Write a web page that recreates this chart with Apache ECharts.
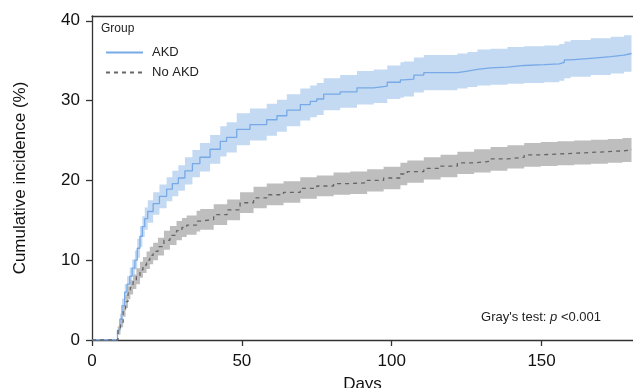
<!DOCTYPE html>
<html>
<head>
<meta charset="utf-8">
<script src="https://cdn.jsdelivr.net/npm/echarts@6/dist/echarts.min.js"></script>
<style>
  html, body { margin: 0; padding: 0; background: #fff; }
  #chart { width: 633px; height: 388px; }
</style>
</head>
<body>
<div id="chart"></div>
<script>
// AKD group: day, cumulative incidence (%), 95% CI
const akdDays = [0, 8.5, 9.3, 10, 10.9, 11.7, 12.6, 13.4, 14.3, 15.1, 16, 16.8, 17.6, 18.6, 20.4, 22.5, 24.9, 26.8, 28.8, 31, 33.5, 36, 39.4, 42.8, 44.9, 48.3, 52.7, 58.3, 61.7, 65, 69.5, 72.8, 75, 77.3, 82.8, 88.4, 94, 98.5, 102.9, 104.1, 107.4, 110.7, 121.9, 125.3, 128.6, 133, 138.6, 144.2, 150.9, 155.9, 157.6, 159.7, 166.4, 173.1, 177.5, 180]
const akdCif = [0, 1.2, 2.6, 4.3, 6.0, 7.0, 8.0, 9.0, 10.0, 11.5, 13.0, 14.2, 15.2, 16.1, 17.1, 18.0, 18.9, 19.6, 20.3, 21.2, 22.1, 22.9, 23.9, 24.9, 25.4, 26.4, 27.0, 27.6, 28.1, 28.8, 29.5, 29.9, 30.2, 30.8, 31.1, 31.6, 31.8, 32.3, 32.6, 32.7, 33.2, 33.5, 33.7, 33.9, 34.1, 34.2, 34.4, 34.5, 34.6, 34.8, 35.1, 35.3, 35.5, 35.7, 35.9, 35.9]
const akdLow = [0, 0.7, 1.9, 3.4, 5.0, 6.0, 6.9, 7.9, 8.8, 10.3, 11.7, 12.9, 13.8, 14.7, 15.7, 16.5, 17.4, 18.0, 18.7, 19.5, 20.4, 21.1, 22.1, 23.0, 23.5, 24.4, 25.0, 25.6, 26.1, 26.8, 27.5, 27.9, 28.2, 28.8, 29.1, 29.5, 29.7, 30.2, 30.4, 30.5, 31.0, 31.3, 31.5, 31.7, 31.9, 32.0, 32.1, 32.2, 32.3, 32.5, 32.8, 33.0, 33.2, 33.4, 33.6, 33.6]
const akdHigh = [0, 1.7, 3.3, 5.2, 7.0, 8.0, 9.1, 10.1, 11.2, 12.7, 14.3, 15.5, 16.6, 17.5, 18.5, 19.5, 20.4, 21.2, 21.9, 22.9, 23.8, 24.7, 25.7, 26.8, 27.3, 28.4, 29.0, 29.6, 30.1, 30.8, 31.5, 31.9, 32.2, 32.8, 33.2, 33.7, 33.9, 34.4, 34.8, 34.9, 35.4, 35.7, 35.9, 36.1, 36.4, 36.5, 36.7, 36.8, 36.9, 37.1, 37.4, 37.6, 37.8, 38.0, 38.2, 38.2]

// No AKD group
const noAkdDays = [0, 8.7, 9.5, 10.4, 11.2, 12, 12.8, 13.7, 14.8, 16, 17, 18.2, 19.3, 20.4, 22, 24, 26, 28.2, 30, 31.6, 34.9, 36.1, 40.6, 45.1, 49.4, 53.9, 58.3, 63.9, 69.5, 75, 80.6, 86.2, 91.8, 97.3, 102.9, 105.2, 110.7, 116.3, 121.9, 127.5, 133, 138.6, 144.2, 149.7, 155.3, 160.9, 166.5, 172.1, 177, 180]
const noAkdCif = [0, 1.2, 2.2, 3.6, 4.8, 5.9, 6.6, 7.3, 8.0, 8.8, 9.4, 10.0, 10.6, 11.1, 11.7, 12.5, 13.1, 13.7, 14.1, 14.4, 14.9, 15.1, 15.7, 16.3, 17.2, 17.8, 18.2, 18.5, 19.0, 19.3, 19.6, 19.7, 20.0, 20.3, 20.8, 21.1, 21.5, 21.8, 22.2, 22.4, 22.7, 22.9, 23.2, 23.3, 23.4, 23.5, 23.6, 23.7, 23.8, 23.9]
const noAkdLow = [0, 0.7, 1.6, 2.9, 4.0, 5.1, 5.7, 6.4, 7.0, 7.8, 8.4, 8.9, 9.5, 10.0, 10.6, 11.3, 11.9, 12.5, 12.9, 13.2, 13.6, 13.8, 14.4, 15.0, 15.9, 16.5, 16.9, 17.2, 17.7, 18.0, 18.2, 18.3, 18.6, 18.9, 19.4, 19.7, 20.1, 20.4, 20.8, 21.0, 21.2, 21.5, 21.7, 21.8, 21.9, 22.0, 22.1, 22.2, 22.3, 22.4]
const noAkdHigh = [0, 1.7, 2.8, 4.3, 5.6, 6.7, 7.5, 8.2, 9.0, 9.8, 10.4, 11.1, 11.7, 12.2, 12.8, 13.7, 14.3, 14.9, 15.3, 15.6, 16.2, 16.4, 17.0, 17.6, 18.5, 19.2, 19.6, 19.9, 20.4, 20.6, 21.0, 21.1, 21.4, 21.7, 22.2, 22.5, 22.9, 23.2, 23.6, 23.9, 24.2, 24.4, 24.7, 24.8, 24.9, 25.0, 25.1, 25.2, 25.3, 25.4]

const xTicks = [0, 50, 100, 150]
const yTicks = [0, 10, 20, 30, 40]

const axisColor = '#333333'
const fontFam = '"Liberation Sans", Arial, Helvetica, sans-serif'

function pairs(xs, ys) {
  return xs.map((x, i) => [x, ys[i]])
}

// CI band: one stepped polygon built from the rows through api.coord
function band(name, xs, lo, hi, color) {
  const rows = xs.map((x, i) => [x, lo[i], hi[i]])
  return {
    name: name,
    type: 'custom',
    silent: true,
    z: 1,
    data: rows,
    encode: { x: 0, y: [1, 2] },
    renderItem: function (params, api) {
      if (params.dataIndex !== 0) return null
      const top = []
      const bot = []
      for (let i = 0; i < rows.length; i++) {
        const x0 = rows[i][0]
        const x1 = i < rows.length - 1 ? rows[i + 1][0] : rows[i][0]
        top.push(api.coord([x0, rows[i][2]]), api.coord([x1, rows[i][2]]))
        bot.push(api.coord([x0, rows[i][1]]), api.coord([x1, rows[i][1]]))
      }
      return {
        type: 'polygon',
        shape: { points: top.concat(bot.reverse()) },
        style: { fill: color }
      }
    }
  }
}

const chart = echarts.init(document.getElementById('chart'), null, { renderer: 'canvas' })

const option = {
  animation: false,
  backgroundColor: '#ffffff',
  grid: { left: 92, right: 0, top: 16, bottom: 48, containLabel: false, outerBoundsMode: 'none' },
  legend: {
    data: ['AKD', 'No AKD'],
    orient: 'vertical',
    left: 100,
    top: 41,
    itemWidth: 37,
    itemHeight: 14,
    itemGap: 7,
    itemStyle: { opacity: 0 },
    textStyle: { fontFamily: fontFam, fontSize: 13, color: '#222', padding: [0, 0, 0, 4] }
  },
  graphic: [{
    type: 'text',
    left: 101,
    top: 23,
    style: { text: 'Group', fontFamily: fontFam, fontSize: 12, fill: '#222' }
  }, {
    type: 'text',
    right: 32,
    top: 311,
    style: {
      text: "{n|Gray's test: }{i|p}{n| <0.001}",
      rich: {
        n: { fontFamily: fontFam, fontSize: 13, fill: '#222' },
        i: { fontFamily: fontFam, fontSize: 13, fontStyle: 'italic', fill: '#222' }
      }
    }
  }],
  xAxis: [{
    type: 'value',
    min: 0,
    max: 180.5,
    interval: 50,
    offset: 2,
    name: 'Days',
    nameLocation: 'middle',
    nameGap: 34,
    nameTextStyle: { fontFamily: fontFam, fontSize: 17, color: '#111' },
    axisLine: { show: true, lineStyle: { color: axisColor, width: 1.3 } },
    axisTick: { show: true, length: 6, customValues: xTicks, lineStyle: { color: axisColor, width: 1.3 } },
    axisLabel: { customValues: xTicks, fontFamily: fontFam, fontSize: 17, color: '#111', margin: 11 },
    splitLine: { show: false }
  }, {
    type: 'value',
    position: 'top',
    min: 0,
    max: 180.5,
    axisLine: { show: true, lineStyle: { color: axisColor, width: 1.3 } },
    axisTick: { show: false },
    axisLabel: { show: false },
    splitLine: { show: false }
  }],
  yAxis: {
    type: 'value',
    min: 0,
    max: 40.6,
    interval: 10,
    offset: 1,
    name: 'Cumulative incidence (%)',
    nameLocation: 'middle',
    nameGap: 62,
    nameTextStyle: { fontFamily: fontFam, fontSize: 17, color: '#111' },
    axisLine: { show: true, lineStyle: { color: axisColor, width: 1.3 } },
    axisTick: { show: true, length: 6, customValues: yTicks, lineStyle: { color: axisColor, width: 1.3 } },
    axisLabel: { customValues: yTicks, fontFamily: fontFam, fontSize: 17, color: '#111', margin: 11 },
    splitLine: { show: false }
  },
  series: [
    band('akd_ci', akdDays, akdLow, akdHigh, '#c4daf3'),
    band('noakd_ci', noAkdDays, noAkdLow, noAkdHigh, '#bebebe'),
    {
      name: 'AKD',
      type: 'line',
      step: 'end',
      symbol: 'none',
      lineStyle: { color: '#77a9e6', width: 1.3 },
      itemStyle: { color: '#9fc3ee' },
      data: pairs(akdDays, akdCif),
      z: 3
    },
    {
      name: 'No AKD',
      type: 'line',
      step: 'end',
      symbol: 'none',
      lineStyle: { color: '#666666', width: 1.3, type: [4, 4] },
      itemStyle: { color: '#666666' },
      data: pairs(noAkdDays, noAkdCif),
      z: 3
    }
  ]
}

chart.setOption(option)
</script>
</body>
</html>
